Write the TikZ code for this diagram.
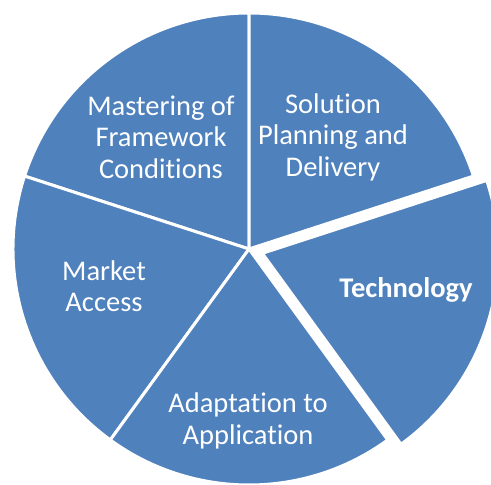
\documentclass[tikz,border=0pt]{standalone}
\usepackage{fontspec}
\setmainfont{Carlito}[Ligatures={NoCommon}]
\usetikzlibrary{calc}
\definecolor{pieblue}{HTML}{4F81BD}
\begin{document}
\begin{tikzpicture}[x=1pt,y=1pt,
  slice/.style={fill=pieblue,draw=white,line width=3pt,line join=miter},
  lbl/.style={text=white,align=center,font=\fontsize{28.5}{31.5}\selectfont,inner sep=0pt}]
\useasboundingbox (0,0) rectangle (491,485);
\coordinate (c) at (249,236);
% four slices that stay in place
\filldraw[slice] (c) -- ++(90:236) arc (90:162:236) -- cycle;
\filldraw[slice] (c) -- ++(162:236) arc (162:234:236) -- cycle;
\filldraw[slice] (c) -- ++(234:236) arc (234:306:236) -- cycle;
\filldraw[slice] (c) -- ++(18:236) arc (18:90:236) -- cycle;
% the pulled-out slice
\coordinate (ce) at ($(c)+(-18:14)$);
\filldraw[slice] (ce) -- ++(-54:236) arc (-54:18:236) -- cycle;
% labels
\node[lbl] (frame) at (161,348) {Mastering of\\Framework\\Conditions};
\node[lbl] (sol) at (333,348) {Solution\\Planning and\\Delivery};
\node[lbl,font=\fontsize{28.5}{31.5}\selectfont\bfseries] (tech) at (406,195) {Technology};
\node[lbl] (market) at (104,199) {Market\\Access};
\node[lbl] (adapt) at (248,64) {Adaptation to\\Application};
\end{tikzpicture}
\end{document}
